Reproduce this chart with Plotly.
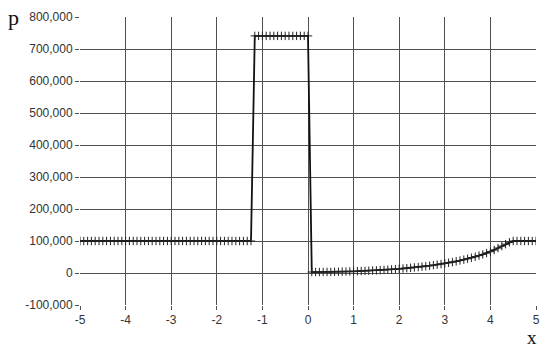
import plotly.graph_objects as go

# x grid (step 1/12) and pressure values
x_left = [-5.0, -4.917, -4.833, -4.75, -4.667, -4.583, -4.5, -4.417, -4.333, -4.25, -4.167, -4.083,
          -4.0, -3.917, -3.833, -3.75, -3.667, -3.583, -3.5, -3.417, -3.333, -3.25, -3.167, -3.083,
          -3.0, -2.917, -2.833, -2.75, -2.667, -2.583, -2.5, -2.417, -2.333, -2.25, -2.167, -2.083,
          -2.0, -1.917, -1.833, -1.75, -1.667, -1.583, -1.5, -1.417, -1.333, -1.25]
p_left = [100000, 100000, 100000, 100000, 100000, 100000, 100000, 100000, 100000, 100000,
          100000, 100000, 100000, 100000, 100000, 100000, 100000, 100000, 100000, 100000,
          100000, 100000, 100000, 100000, 100000, 100000, 100000, 100000, 100000, 100000,
          100000, 100000, 100000, 100000, 100000, 100000, 100000, 100000, 100000, 100000,
          100000, 100000, 100000, 100000, 100000, 100000]

x_mid = [-1.167, -1.083, -1.0, -0.917, -0.833, -0.75, -0.667, -0.583, -0.5, -0.417, -0.333, -0.25,
         -0.167, -0.083, 0.0]
p_mid = [741000, 741000, 741000, 741000, 741000, 741000, 741000, 741000, 741000, 741000,
         741000, 741000, 741000, 741000, 741000]

x_right = [0.083, 0.167, 0.25, 0.333, 0.417, 0.5, 0.583, 0.667, 0.75, 0.833, 0.917, 1.0,
           1.083, 1.167, 1.25, 1.333, 1.417, 1.5, 1.583, 1.667, 1.75, 1.833, 1.917, 2.0,
           2.083, 2.167, 2.25, 2.333, 2.417, 2.5, 2.583, 2.667, 2.75, 2.833, 2.917, 3.0,
           3.083, 3.167, 3.25, 3.333, 3.417, 3.5, 3.583, 3.667, 3.75, 3.833, 3.917, 4.0,
           4.083, 4.167, 4.25, 4.333, 4.417, 4.5, 4.583, 4.667, 4.75, 4.833, 4.917, 5.0]
p_right = [3000, 3000, 3100, 3200, 3300, 3500, 3700, 3900, 4200, 4500, 4800, 5200,
           5600, 6100, 6600, 7100, 7700, 8300, 9000, 9700, 10500, 11300, 12200, 13100,
           14100, 15100, 16200, 17400, 18600, 19900, 21300, 22800, 24400, 26100, 27900, 30000,
           32000, 34200, 36500, 39000, 41700, 44600, 47700, 51000, 54500, 58200, 62200, 66500,
           72000, 78000, 84000, 90000, 96000, 100000, 100000, 100000, 100000, 100000, 100000, 100000]

x_vals = x_left + x_mid + x_right
p_vals = p_left + p_mid + p_right

y_ticks = [-100000, 0, 100000, 200000, 300000, 400000, 500000, 600000, 700000, 800000]
y_tick_text = ["-100,000", "0", "100,000", "200,000", "300,000", "400,000", "500,000",
               "600,000", "700,000", "800,000"]
x_ticks = [-5, -4, -3, -2, -1, 0, 1, 2, 3, 4, 5]

fig = go.Figure()
fig.add_trace(go.Scatter(
    x=x_vals, y=p_vals, mode="lines+markers",
    line=dict(color="#111111", width=1.8),
    marker=dict(symbol="cross-thin", size=6, line=dict(color="#222222", width=1)),
    showlegend=False, hoverinfo="skip"))

grid_color = "#505050"
tick_font = dict(family="Liberation Sans, Arial, sans-serif", size=12, color="#333333")

fig.update_layout(
    width=550, height=351,
    margin=dict(l=80, r=10, t=12, b=46),
    paper_bgcolor="white", plot_bgcolor="white",
    xaxis=dict(range=[-5, 5], tickmode="array", tickvals=x_ticks, ticktext=[str(t) for t in x_ticks],
               showgrid=True, gridcolor=grid_color, gridwidth=1, zeroline=False,
               showline=False, ticks="outside", ticklen=4, tickcolor=grid_color,
               tickfont=tick_font),
    yaxis=dict(range=[-100000, 800000], tickmode="array", tickvals=y_ticks, ticktext=y_tick_text,
               showgrid=True, gridcolor=grid_color, gridwidth=1, zeroline=False,
               showline=False, ticks="outside", ticklen=4, tickcolor=grid_color,
               tickfont=tick_font),
    annotations=[
        dict(text="p", xref="paper", yref="paper", x=-0.145, y=1.0, showarrow=False,
             xanchor="center", yanchor="middle",
             font=dict(family="Liberation Serif, Times New Roman, serif", size=22, color="#111111")),
        dict(text="x", xref="paper", yref="paper", x=0.992, y=-0.114, showarrow=False,
             xanchor="center", yanchor="middle",
             font=dict(family="Liberation Serif, Times New Roman, serif", size=19, color="#111111")),
    ],
)

fig.write_html("out.html", config={"displayModeBar": False},
               post_script="document.body.style.margin='0';")
